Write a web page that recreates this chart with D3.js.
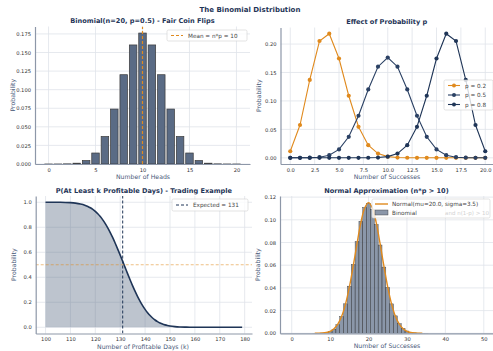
<!DOCTYPE html>
<html>
<head>
<meta charset="utf-8">
<script src="https://cdn.jsdelivr.net/npm/d3@7"></script>
<style>
  body { margin: 0; background: #fff; }
  svg { font-family: "DejaVu Sans", sans-serif; display: block; }
</style>
</head>
<body>
<div id="container"></div>
<script>
/* CONSTANTS AND GLOBALS */
const width = 493, height = 351;
const navy = "#1f3557", slate = "#5a6b85", orange = "#e08a1e";
const gridColor = "#dfe3ea", spineColor = "#8d97a8", labelColor = "#4a5a7a";

/* DATA */
// Binomial(20, 0.5)
const kValues = d3.range(0, 21);
const pmfHalf = [0.000001, 0.000019, 0.000181, 0.001087, 0.004621, 0.014786, 0.036964, 0.073929, 0.120134, 0.160179, 0.176197,
                 0.160179, 0.120134, 0.073929, 0.036964, 0.014786, 0.004621, 0.001087, 0.000181, 0.000019, 0.000001];
const pmfLow = [0.011529, 0.057646, 0.136909, 0.205364, 0.218199, 0.174560, 0.109100, 0.054550, 0.022161, 0.007387, 0.002031,
                0.000462, 0.000087, 0.000013, 0.000002, 0, 0, 0, 0, 0, 0];
const pmfHigh = [0, 0, 0, 0, 0, 0, 0.000002, 0.000013, 0.000087, 0.000462, 0.002031,
                 0.007387, 0.022161, 0.054550, 0.109100, 0.174560, 0.218199, 0.205364, 0.136909, 0.057646, 0.011529];
const seriesP = [
  {label: "p = 0.2", values: pmfLow, color: orange},
  {label: "p = 0.5", values: pmfHalf, color: "#2b4164"},
  {label: "p = 0.8", values: pmfHigh, color: navy}
];

// trading example: P(X >= k)
const days = [100, 102, 104, 106, 108, 110, 112, 114, 115, 116, 117, 118, 119, 120, 121, 122, 123, 124, 125, 126, 127, 128, 129,
              130, 131, 132, 133, 134, 135, 136, 137, 138, 139, 140, 141, 142, 143, 144, 145, 146, 147, 148, 149, 150,
              152, 154, 156, 158, 160, 165, 170, 175, 179];
const survival = [1.0000, 0.9999, 0.9997, 0.9994, 0.9985, 0.9967, 0.9931, 0.9864, 0.9814, 0.9749, 0.9666, 0.9561, 0.9431, 0.9272,
                  0.9081, 0.8855, 0.8593, 0.8292, 0.7953, 0.7577, 0.7167, 0.6722, 0.6255, 0.5769, 0.5271, 0.4769, 0.4270,
                  0.3783, 0.3314, 0.2871, 0.2457, 0.2078, 0.1736, 0.1430, 0.1165, 0.0936, 0.0742, 0.0581, 0.0448, 0.0342,
                  0.0256, 0.0190, 0.0139, 0.0100, 0.0050, 0.0023, 0.0010, 0.0004, 0.0002, 0, 0, 0, 0];
const expectedDays = 131;

// Binomial(50, 0.4) and normal approximation
const kLarge = d3.range(0, 51);
const pmfLarge = [0, 0, 0, 0, 0, 0, 0.000011, 0.000047, 0.000169, 0.000527, 0.001440,
                  0.003491, 0.007563, 0.014738, 0.025967, 0.041547, 0.060589, 0.080785, 0.098737, 0.110863, 0.114558,
                  0.109103, 0.095878, 0.077813, 0.058360, 0.040463, 0.025938, 0.015371, 0.008417, 0.004257, 0.001987,
                  0.000855, 0.000338, 0.000123, 0.000041, 0.000013, 0, 0, 0, 0, 0,
                  0, 0, 0, 0, 0, 0, 0, 0, 0, 0];
const normX = d3.range(6, 35);
const normY = [0.000033, 0.000101, 0.000285, 0.000745, 0.001785, 0.003941, 0.008002, 0.014949, 0.025698, 0.040640,
               0.059129, 0.079155, 0.097489, 0.110470, 0.115170, 0.110470, 0.097489, 0.079155, 0.059129, 0.040640,
               0.025698, 0.014949, 0.008002, 0.003941, 0.001785, 0.000745, 0.000285, 0.000101, 0.000033];

/* SVG */
const svg = d3.select("#container").append("svg")
  .attr("width", width).attr("height", height);

svg.append("text")
  .attr("x", 250).attr("y", 11.5)
  .attr("text-anchor", "middle")
  .attr("font-size", 7).attr("font-weight", "bold").attr("fill", navy)
  .text("The Binomial Distribution");

// draws grid, spines, ticks, labels for one panel
function panel(o) {
  const g = svg.append("g");
  const [x0, x1] = o.x.range(), [y0, y1] = o.y.range();
  const clipId = "clip" + Math.round(x0) + Math.round(y1);
  svg.append("clipPath").attr("id", clipId)
    .append("rect").attr("x", x0).attr("y", y1).attr("width", x1 - x0).attr("height", y0 - y1);

  g.append("g").selectAll("line").data(o.xTicks).join("line")
    .attr("x1", d => o.x(d)).attr("x2", d => o.x(d))
    .attr("y1", y0).attr("y2", y1)
    .attr("stroke", gridColor).attr("stroke-width", 0.8);
  g.append("g").selectAll("line").data(o.yTicks).join("line")
    .attr("x1", x0).attr("x2", x1)
    .attr("y1", d => o.y(d)).attr("y2", d => o.y(d))
    .attr("stroke", gridColor).attr("stroke-width", 0.8);

  const plot = svg.append("g").attr("clip-path", `url(#${clipId})`);

  const xAxis = d3.axisBottom(o.x).tickValues(o.xTicks).tickFormat(o.xFmt).tickSize(0).tickPadding(4);
  const yAxis = d3.axisLeft(o.y).tickValues(o.yTicks).tickFormat(o.yFmt).tickSize(0).tickPadding(4);
  const ax = svg.append("g").attr("transform", `translate(0,${y0})`).call(xAxis);
  const ay = svg.append("g").attr("transform", `translate(${x0},0)`).call(yAxis);
  [ax, ay].forEach(a => {
    a.select(".domain").attr("stroke", spineColor).attr("stroke-width", 1.2);
    a.selectAll("text").attr("font-size", 5.2).attr("fill", "#333")
      .attr("font-family", "DejaVu Sans");
  });

  svg.append("text")
    .attr("x", (x0 + Math.min(x1, width)) / 2).attr("y", y1 - 3.5)
    .attr("text-anchor", "middle").attr("font-size", 6.6).attr("font-weight", "bold").attr("fill", navy)
    .text(o.title);
  svg.append("text")
    .attr("x", o.xLabelX).attr("y", y0 + 15)
    .attr("text-anchor", "middle").attr("font-size", 6.2).attr("fill", labelColor)
    .text(o.xLabel);
  svg.append("text")
    .attr("transform", `translate(${x0 - 20},${(y0 + y1) / 2}) rotate(-90)`)
    .attr("text-anchor", "middle").attr("font-size", 6.2).attr("fill", labelColor)
    .text("Probability");
  return plot;
}

function legendBox(x, y, w, h) {
  svg.append("rect").attr("x", x).attr("y", y).attr("width", w).attr("height", h)
    .attr("rx", 1.5).attr("fill", "#fff").attr("fill-opacity", 0.8)
    .attr("stroke", "#d0d0d0").attr("stroke-width", 0.6);
}

/* PANEL 1: fair coin */
const x1s = d3.scaleLinear().domain([-1.44, 21.44]).range([35, 250]);
const y1s = d3.scaleLinear().domain([0, 0.185]).range([164, 26.5]);
const p1 = panel({x: x1s, y: y1s, xTicks: [0, 5, 10, 15, 20], yTicks: d3.range(0, 0.176, 0.025),
  xFmt: d3.format("d"), yFmt: d3.format(".3f"),
  title: "Binomial(n=20, p=0.5) - Fair Coin Flips", xLabel: "Number of Heads", xLabelX: 143});
const bw1 = x1s(0.8) - x1s(0);
p1.selectAll("rect").data(kValues).join("rect")
  .attr("x", d => x1s(d - 0.4)).attr("width", bw1)
  .attr("y", (d, i) => y1s(pmfHalf[i])).attr("height", (d, i) => y1s(0) - y1s(pmfHalf[i]))
  .attr("fill", slate).attr("stroke", "#3a3a3a").attr("stroke-width", 0.7);
p1.append("line")
  .attr("x1", x1s(10)).attr("x2", x1s(10)).attr("y1", 164).attr("y2", 26.5)
  .attr("stroke", orange).attr("stroke-width", 1.2).attr("stroke-dasharray", "3,2");
legendBox(167, 30, 80, 11);
svg.append("line").attr("x1", 171).attr("x2", 183).attr("y1", 35.5).attr("y2", 35.5)
  .attr("stroke", orange).attr("stroke-width", 1.2).attr("stroke-dasharray", "3,2");
svg.append("text").attr("x", 188).attr("y", 37.6).attr("font-size", 5.7).attr("fill", "#444")
  .text("Mean = n*p = 10");

/* PANEL 2: effect of p */
const x2s = d3.scaleLinear().domain([-1, 21]).range([280.5, 495]);
const y2s = d3.scaleLinear().domain([-0.0109, 0.2291]).range([164, 27.5]);
const p2 = panel({x: x2s, y: y2s, xTicks: d3.range(0, 20.1, 2.5), yTicks: [0, 0.05, 0.10, 0.15, 0.20],
  xFmt: d3.format(".1f"), yFmt: d3.format(".2f"),
  title: "Effect of Probability p", xLabel: "Number of Successes", xLabelX: 387});
const line2 = d3.line().x((d, i) => x2s(kValues[i])).y(d => y2s(d));
seriesP.forEach(s => {
  p2.append("path").attr("d", line2(s.values))
    .attr("fill", "none").attr("stroke", s.color).attr("stroke-width", 1.1);
  p2.append("g").selectAll("circle").data(s.values).join("circle")
    .attr("cx", (d, i) => x2s(kValues[i])).attr("cy", d => y2s(d)).attr("r", 2.1)
    .attr("fill", s.color);
});
legendBox(444, 80, 49, 30);
seriesP.forEach((s, i) => {
  const yy = 85.5 + i * 9.5;
  svg.append("line").attr("x1", 448).attr("x2", 460).attr("y1", yy).attr("y2", yy)
    .attr("stroke", s.color).attr("stroke-width", 1.1);
  svg.append("circle").attr("cx", 454).attr("cy", yy).attr("r", 2).attr("fill", s.color);
  svg.append("text").attr("x", 465).attr("y", yy + 2).attr("font-size", 5.7).attr("fill", "#444").text(s.label);
});

/* PANEL 3: trading example */
const x3s = d3.scaleLinear().domain([96.05, 182.95]).range([35.7, 252]);
const y3s = d3.scaleLinear().domain([-0.05, 1.05]).range([333.5, 196]);
const p3 = panel({x: x3s, y: y3s, xTicks: d3.range(100, 181, 10), yTicks: [0, 0.2, 0.4, 0.6, 0.8, 1.0],
  xFmt: d3.format("d"), yFmt: d3.format(".1f"),
  title: "P(At Least k Profitable Days) - Trading Example", xLabel: "Number of Profitable Days (k)", xLabelX: 143});
p3.append("path")
  .attr("d", d3.area().x((d, i) => x3s(days[i])).y0(y3s(0)).y1(d => y3s(d)).curve(d3.curveMonotoneX)(survival))
  .attr("fill", slate).attr("fill-opacity", 0.4);
p3.append("path")
  .attr("d", d3.line().x((d, i) => x3s(days[i])).y(d => y3s(d)).curve(d3.curveMonotoneX)(survival))
  .attr("fill", "none").attr("stroke", navy).attr("stroke-width", 1.6);
p3.append("line").attr("x1", x3s(96.05)).attr("x2", x3s(182.95)).attr("y1", y3s(0.5)).attr("y2", y3s(0.5))
  .attr("stroke", orange).attr("stroke-opacity", 0.55).attr("stroke-width", 1.1).attr("stroke-dasharray", "3,2");
p3.append("line").attr("x1", x3s(expectedDays)).attr("x2", x3s(expectedDays)).attr("y1", 333.5).attr("y2", 196)
  .attr("stroke", navy).attr("stroke-width", 1).attr("stroke-dasharray", "3,2");
legendBox(172, 199, 76, 12);
svg.append("line").attr("x1", 176).attr("x2", 188).attr("y1", 205).attr("y2", 205)
  .attr("stroke", navy).attr("stroke-width", 1).attr("stroke-dasharray", "3,2");
svg.append("text").attr("x", 193).attr("y", 207.1).attr("font-size", 5.7).attr("fill", "#444")
  .text("Expected = " + expectedDays);

/* PANEL 4: normal approximation */
const x4s = d3.scaleLinear().domain([-3.05, 53.05]).range([280, 495.5]);
const y4s = d3.scaleLinear().domain([0, 0.121]).range([333.3, 196]);
const p4 = panel({x: x4s, y: y4s, xTicks: [0, 10, 20, 30, 40, 50], yTicks: [0, 0.02, 0.04, 0.06, 0.08, 0.10, 0.12],
  xFmt: d3.format("d"), yFmt: d3.format(".2f"),
  title: "Normal Approximation (n*p > 10)", xLabel: "Number of Successes", xLabelX: 387});
const bw4 = x4s(1) - x4s(0);
p4.selectAll("rect").data(kLarge).join("rect")
  .attr("x", d => x4s(d - 0.5)).attr("width", bw4)
  .attr("y", (d, i) => y4s(pmfLarge[i])).attr("height", (d, i) => y4s(0) - y4s(pmfLarge[i]))
  .attr("fill", slate).attr("fill-opacity", 0.7).attr("stroke", "#333").attr("stroke-width", 0.4);
p4.append("path")
  .attr("d", d3.line().x((d, i) => x4s(normX[i])).y(d => y4s(d)).curve(d3.curveCatmullRom)(normY))
  .attr("fill", "none").attr("stroke", orange).attr("stroke-width", 1.4);
legendBox(372, 199, 118, 19);
svg.append("text").attr("x", 489).attr("y", 215.2).attr("text-anchor", "end")
  .attr("font-size", 5.5).attr("fill", "#d2d2d2").text("and n(1-p) > 10");
svg.append("line").attr("x1", 375).attr("x2", 388).attr("y1", 204).attr("y2", 204)
  .attr("stroke", orange).attr("stroke-width", 1.4);
svg.append("text").attr("x", 392).attr("y", 206.1).attr("font-size", 5.7).attr("fill", "#444")
  .text("Normal(mu=20.0, sigma=3.5)");
svg.append("rect").attr("x", 375).attr("y", 210).attr("width", 13).attr("height", 5)
  .attr("fill", slate).attr("fill-opacity", 0.7).attr("stroke", "#333").attr("stroke-width", 0.4);
svg.append("text").attr("x", 392).attr("y", 215.2).attr("font-size", 5.7).attr("fill", "#444").text("Binomial");
</script>
</body>
</html>
